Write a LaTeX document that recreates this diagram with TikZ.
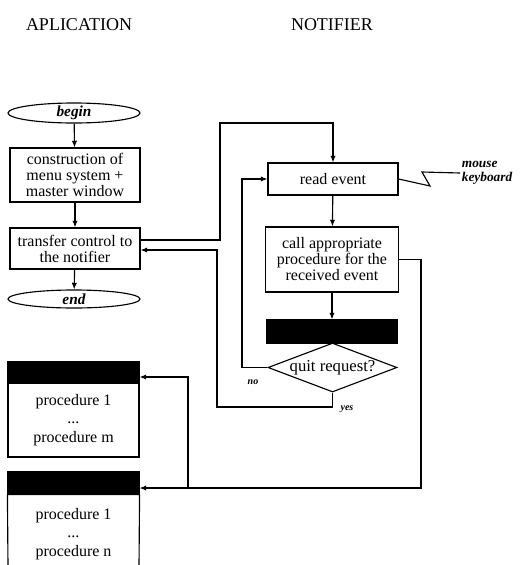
\documentclass[tikz,border=0pt]{standalone}
\usepackage{fontspec}
\setmainfont{Liberation Serif}
\usetikzlibrary{arrows.meta,shapes.geometric,calc}
\begin{document}
\begin{tikzpicture}[x=0.75pt,y=-0.75pt,
  line width=0.85pt,
  arr/.style={-{Latex[length=5pt,width=4pt]}},
  boxtext/.style={font=\fontsize{12}{12}\selectfont, align=center},
  pbox/.style={draw, rectangle, inner sep=0pt, boxtext},
  ell/.style={draw, ellipse, inner sep=0pt, font=\fontsize{11.5}{12}\selectfont\bfseries\itshape},
  blackbar/.style={draw, fill=black, rectangle, inner sep=0pt, minimum width=98.25pt},
  head/.style={font=\fontsize{13.5}{14}\selectfont},
  lab/.style={font=\fontsize{7.5}{8}\selectfont\bfseries\itshape}
]
\useasboundingbox (0,0) rectangle (521,565);

% headers
\node[head] (happ) at (79,25) {APLICATION};
\node[head] (hnot) at (332,25) {NOTIFIER};

% application column
\node[ell, minimum width=99pt, minimum height=15pt] (begin) at (74,113) {begin};
\node[pbox, minimum width=97.5pt, minimum height=40.5pt, font=\fontsize{12}{12}\selectfont] (constr) at (75,175)
  {construction of\\menu system +\\master window};
\node[pbox, minimum width=97.5pt, minimum height=30.75pt] (transfer) at (75,248.5)
  {transfer control to\\the notifier};
\node[ell, minimum width=99pt, minimum height=13.5pt] (end) at (74,299) {end};

\draw[arr] (begin) -- (constr);
\draw[arr] (constr) -- (transfer);
\draw[arr] (transfer) -- (end);

% notifier column
\node[pbox, minimum width=97.5pt, minimum height=24pt] (read) at (333,179) {read event};
\node[pbox, minimum width=99.75pt, minimum height=48.75pt] (call) at (332,259.5)
  {call appropriate\\procedure for the\\received event};
\node[blackbar, minimum width=97.5pt, minimum height=17.25pt] (qbar) at (332,331.5) {};
\node[draw, diamond, aspect=2.6, inner sep=0pt, minimum width=96.75pt, minimum height=36.75pt,
  font=\fontsize{12.5}{13}\selectfont] (quit) at (332.5,367.5) {quit request?};

\draw[arr] (read) -- (call);
\draw[arr] (call.south) -- (qbar.north);

% device input
\node[anchor=west, inner sep=1pt, align=left, font=\fontsize{10}{10.5}\selectfont\bfseries\itshape] (dev) at (460,173)
  {mouse\\keyboard};
\coordinate (z1) at (430,186);
\coordinate (z2) at (422,172);
\draw (read.east) -- (z1) -- (z2) -- (dev.west);

% loop from transfer to read event
\coordinate (tout) at ($(transfer.east)+(0,-8.5)$);
\coordinate (tin) at ($(transfer.east)+(0,1.5)$);
\coordinate (l1) at (220,240);
\coordinate (l2) at (220,123);
\draw[arr] (tout) -- (l1) -- (l2) -| (read.north);

% no branch
\coordinate (n1) at (242,367.5);
\draw[arr] (quit.west) -- (n1) |- (read.west);
\node[lab] (no) at (253,382) {no};

% yes branch
\coordinate (y1) at (332.5,407);
\coordinate (y2) at (217,407);
\draw[arr] (quit.south) -- (y1) -- (y2) |- (tin);
\node[lab] (yes) at (347,409) {yes};

% procedure boxes
\node[blackbar, minimum height=15.75pt] (bar1) at (73.5,372.5) {};
\node[pbox, minimum width=98.25pt, minimum height=55.5pt, font=\fontsize{12}{14}\selectfont] (body1) at (73.5,420)
  {procedure 1\\...\\procedure m};
\node[blackbar, minimum height=16.5pt] (bar2) at (73.5,483) {};
\coordinate (b2l) at (8,567);
\coordinate (b2r) at (139,567);
\draw (b2l) -- (bar2.south west) -- (bar2.south east) -- (b2r);
\node[boxtext, font=\fontsize{12}{14}\selectfont] (body2) at (73.5,534)
  {procedure 1\\...\\procedure n};

% from call to procedure boxes
\coordinate (c1) at (421,488);
\coordinate (j) at (188,488);
\coordinate (j1) at (188,377);
\draw[arr] (call.east) -| (c1) -- (bar2.east |- c1);
\draw[arr] (j) -- (j1) -- (bar1.east |- j1);
\end{tikzpicture}
\end{document}
